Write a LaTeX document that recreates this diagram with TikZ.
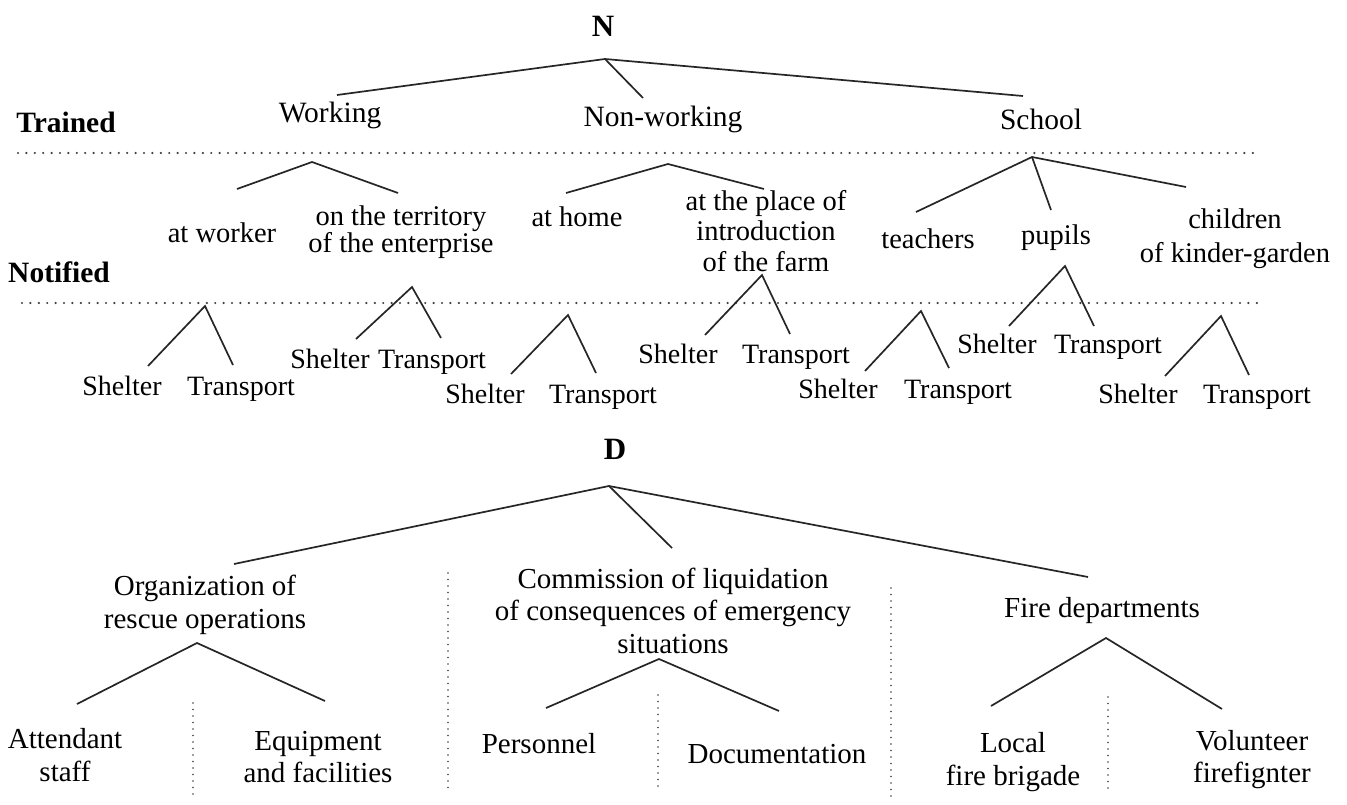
\documentclass[tikz,border=0pt]{standalone}
\usepackage{fontspec}
\setmainfont{Liberation Serif}
\begin{document}
\begin{tikzpicture}[x=1pt,y=-1pt,
  lbl/.style={inner sep=0pt, anchor=base, align=center},
  tone/.style={lbl, font=\fontsize{29.5}{32}\selectfont},
  ttwo/.style={lbl, font=\fontsize{28.5}{31}\selectfont},
  tthree/.style={lbl, font=\fontsize{28}{31}\selectfont},
  tbot/.style={lbl, font=\fontsize{29}{33}\selectfont},
  boldlbl/.style={lbl, font=\fontsize{29.5}{32}\selectfont\bfseries},
  rootlbl/.style={lbl, font=\fontsize{31}{34}\selectfont\bfseries},
  branch/.style={line width=1.7pt, color=black!85},
  hdots/.style={line width=2.4pt, line cap=round, color=black!75, dash pattern=on 0pt off 8.4pt},
  vdots/.style={line width=1.7pt, line cap=round, color=black!75, dash pattern=on 0pt off 6.5pt}]
\useasboundingbox (0,0) rectangle (1347,805);

% ---------------- top panel ----------------
\node[rootlbl] (N) at (603,37) {N};
\node[boldlbl] (trained) at (66,133) {Trained};
\node[boldlbl] (notified) at (59,282) {Notified};
\node[tone] (working) at (330,123) {Working};
\node[tone] (nonworking) at (663,127) {Non-working};
\node[tone] (school) at (1041,130) {School};

\coordinate (dl1a) at (18,153); \coordinate (dl1b) at (1257,153);
\coordinate (dl2a) at (22,303); \coordinate (dl2b) at (1260,303);
\draw[hdots] (dl1a) -- (dl1b);
\draw[hdots] (dl2a) -- (dl2b);

\coordinate (nA) at (605,59);
\coordinate (nW) at (337,95);
\coordinate (nNW) at (643,98);
\coordinate (nS) at (1023,96);
\draw[branch] (nW) -- (nA) -- (nS);
\draw[branch] (nA) -- (nNW);

% level 2
\node[ttwo] (atworker) at (222,243) {at worker};
\node[ttwo, font=\fontsize{28.5}{25.5}\selectfont] (territory) at (401,253) {on the territory\\of the enterprise};
\node[ttwo] (athome) at (577,227) {at home};
\node[ttwo] (farm) at (766,272) {at the place of\\introduction\\of the farm};
\node[ttwo] (teachers) at (928,248) {teachers};
\node[ttwo] (pupils) at (1056,245) {pupils};
\node[ttwo, font=\fontsize{28.5}{34}\selectfont] (children) at (1235,262) {children\\of kinder-garden};

\coordinate (wA) at (312,162); \coordinate (wL) at (237,189); \coordinate (wR) at (398,193);
\draw[branch] (wL) -- (wA) -- (wR);
\coordinate (nwA) at (668,164); \coordinate (nwL) at (566,193); \coordinate (nwR) at (764,189);
\draw[branch] (nwL) -- (nwA) -- (nwR);
\coordinate (sA) at (1032,157); \coordinate (sL) at (916,212); \coordinate (sM) at (1051,210); \coordinate (sR) at (1186,187);
\draw[branch] (sL) -- (sA) -- (sR);
\draw[branch] (sA) -- (sM);

% level 3
\node[tthree] (sh1) at (122,395) {Shelter};
\node[tthree] (tr1) at (241,395) {Transport};
\coordinate (a1) at (205,306); \coordinate (l1) at (148,366); \coordinate (r1) at (233,365);
\draw[branch] (l1) -- (a1) -- (r1);

\node[tthree] (sh2) at (330,368) {Shelter};
\node[tthree] (tr2) at (432,368) {Transport};
\coordinate (a2) at (412,287); \coordinate (l2) at (356,339); \coordinate (r2) at (441,338);
\draw[branch] (l2) -- (a2) -- (r2);

\node[tthree] (sh3) at (485,403) {Shelter};
\node[tthree] (tr3) at (603,403) {Transport};
\coordinate (a3) at (568,315); \coordinate (l3) at (511,374); \coordinate (r3) at (596,373);
\draw[branch] (l3) -- (a3) -- (r3);

\node[tthree] (sh4) at (678,363) {Shelter};
\node[tthree] (tr4) at (796,363) {Transport};
\coordinate (a4) at (762,275); \coordinate (l4) at (705,335); \coordinate (r4) at (790,334);
\draw[branch] (l4) -- (a4) -- (r4);

\node[tthree] (sh5) at (838,398) {Shelter};
\node[tthree] (tr5) at (958,398) {Transport};
\coordinate (a5) at (921,311); \coordinate (l5) at (865,371); \coordinate (r5) at (949,368);
\draw[branch] (l5) -- (a5) -- (r5);

\node[tthree] (sh6) at (997,353) {Shelter};
\node[tthree] (tr6) at (1108,353) {Transport};
\coordinate (a6) at (1065,266); \coordinate (l6) at (1009,326); \coordinate (r6) at (1094,326);
\draw[branch] (l6) -- (a6) -- (r6);

\node[tthree] (sh7) at (1138,403) {Shelter};
\node[tthree] (tr7) at (1257,403) {Transport};
\coordinate (a7) at (1221,316); \coordinate (l7) at (1165,376); \coordinate (r7) at (1249,375);
\draw[branch] (l7) -- (a7) -- (r7);

% ---------------- bottom panel ----------------
\node[rootlbl] (D) at (615,459) {D};
\coordinate (dA) at (609,486);
\coordinate (dL) at (234,564);
\coordinate (dM) at (672,548);
\coordinate (dR) at (1088,577);
\draw[branch] (dL) -- (dA) -- (dR);
\draw[branch] (dA) -- (dM);

\node[tbot] (org) at (205,628) {Organization of\\rescue operations};
\node[tbot, font=\fontsize{29}{32.5}\selectfont] (comm) at (673,653) {Commission of liquidation\\of consequences of emergency\\situations};
\node[tbot] (fire) at (1102,617) {Fire departments};

\node[tbot] (attendant) at (65,781) {Attendant\\staff};
\node[tbot, font=\fontsize{29}{32}\selectfont] (equip) at (318,782) {Equipment\\and facilities};
\node[tbot] (personnel) at (539,753) {Personnel};
\node[tbot] (docum) at (777,763) {Documentation};
\node[tbot] (local) at (1013,785) {Local\\fire brigade};
\node[tbot, font=\fontsize{29}{32}\selectfont] (volunteer) at (1252,782) {Volunteer\\firefignter};

\coordinate (oA) at (197,643); \coordinate (oL) at (77,704); \coordinate (oR) at (325,701);
\draw[branch] (oL) -- (oA) -- (oR);
\coordinate (cA) at (659,659); \coordinate (cL) at (546,708); \coordinate (cR) at (779,711);
\draw[branch] (cL) -- (cA) -- (cR);
\coordinate (fA) at (1106,638); \coordinate (fL) at (991,706); \coordinate (fR) at (1222,709);
\draw[branch] (fL) -- (fA) -- (fR);

\coordinate (v1a) at (193,703); \coordinate (v1b) at (193,797);
\coordinate (v2a) at (448,573); \coordinate (v2b) at (448,793);
\coordinate (v3a) at (658,695); \coordinate (v3b) at (658,787);
\coordinate (v4a) at (891,588); \coordinate (v4b) at (891,800);
\coordinate (v5a) at (1108,697); \coordinate (v5b) at (1108,790);
\draw[vdots] (v1a) -- (v1b);
\draw[vdots] (v2a) -- (v2b);
\draw[vdots] (v3a) -- (v3b);
\draw[vdots] (v4a) -- (v4b);
\draw[vdots] (v5a) -- (v5b);
\end{tikzpicture}
\end{document}
